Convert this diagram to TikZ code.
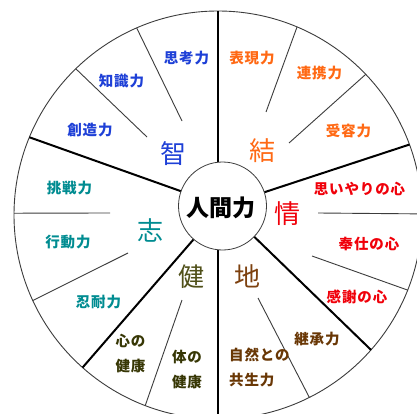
\documentclass[tikz,border=0pt]{standalone}
\usepackage{fontspec}
\usetikzlibrary{calc}
\newfontfamily\jp{Noto Sans CJK JP}
\newfontfamily\jps[LetterSpace=6]{Noto Sans CJK JP}
\definecolor{cblue}{RGB}{30,64,215}
\definecolor{corange}{RGB}{255,105,20}
\definecolor{cred}{RGB}{240,0,10}
\definecolor{cteal}{RGB}{0,140,145}
\definecolor{colive}{RGB}{80,80,25}
\definecolor{coliveD}{RGB}{55,55,5}
\definecolor{cbrown}{RGB}{125,65,15}
\definecolor{cbrownD}{RGB}{105,55,5}
\definecolor{cline}{RGB}{60,60,60}
\tikzset{
  big/.style={inner sep=0pt, font=\jp\fontsize{26}{28}\selectfont},
  lab/.style={inner sep=0pt, font=\jps\bfseries\fontsize{14.5}{25}\selectfont},
  thick spoke/.style={draw=black, line width=2pt},
  thin spoke/.style={draw=cline, line width=0.9pt},
}
\begin{document}
\begin{tikzpicture}[x=1pt,y=-1pt]
\useasboundingbox (0,0) rectangle (417,414);
\fill[white] (0,0) rectangle (417,414);
\clip (0,0) rectangle (417,414);
\coordinate (O) at (218,215);
\coordinate (c) at (222.5,206);
% outer circle
\draw[cline, line width=0.9pt] (O) circle[radius=204];
% outer end points
\coordinate (tTop) at ($(O)+(-90:204)$);
\coordinate (t2) at ($(O)+(-20.2:204)$);
\coordinate (t3) at ($(O)+(41.4:204)$);
\coordinate (tBot) at ($(O)+(90:204)$);
\coordinate (t5) at ($(O)+(131.6:204)$);
\coordinate (t6) at ($(O)+(-157.6:204)$);
\coordinate (a1) at ($(O)+(-113.5:204)$);
\coordinate (a2) at ($(O)+(-134.2:204)$);
\coordinate (b1) at ($(O)+(-67.2:204)$);
\coordinate (b2) at ($(O)+(-43.6:204)$);
\coordinate (e1) at ($(O)+(-0.3:206)$);
\coordinate (e2) at ($(O)+(21.6:204)$);
\coordinate (d1) at ($(O)+(63.4:204)$);
\coordinate (h1) at ($(O)+(110.9:204)$);
\coordinate (f1) at ($(O)+(180.5:204)$);
\coordinate (f2) at ($(O)+(155.2:204)$);
% inner end points of thin lines
\coordinate (a1i) at (182,121);
\coordinate (a2i) at (147,137);
\coordinate (b1i) at (266,112);
\coordinate (b2i) at (289,143);
\coordinate (e1i) at (318,213);
\coordinate (e2i) at (312,256);
\coordinate (d1i) at (258,298);
\coordinate (h1i) at (182,300);
\coordinate (f1i) at (110,213);
\coordinate (f2i) at (128,253);
% thin lines
\foreach \p in {a1,a2,b1,b2,e1,e2,d1,h1,f1,f2}
  \path[thin spoke] (\p i) -- (\p);
% thick spokes
\path[thick spoke] (tTop) -- (tTop |- c);
\path[thick spoke] (tBot) -- (tBot |- c);
\foreach \p in {t2,t3,t5,t6}
  \path[thick spoke] (c) -- (\p);
% hub
\node[circle, draw=cline, line width=0.8pt, fill=white, minimum size=88pt, inner sep=0pt] (hub) at (c) {};
\node[inner sep=0pt, font=\jp\bfseries\fontsize{23}{25}\selectfont] (hubtext) at (221,207.5) {人間力};
% big characters
\node[big, text=cblue] (chi) at (173,154) {智};
\node[big, text=corange] (musubi) at (262,150.5) {結};
\node[big, text=cred] (jou) at (287,213.5) {情};
\node[big, text=cbrown] (tsuchi) at (247,276.5) {地};
\node[big, text=colive] (ken) at (191,276.5) {健};
\node[big, text=cteal] (kokoro) at (150,230) {志};
% labels
\node[lab, text=cblue] (l1) at (186.5,58) {思考力};
\node[lab, text=cblue] (l2) at (121.5,81.5) {知識力};
\node[lab, text=cblue] (l3) at (90,130) {創造力};
\node[lab, text=cteal] (l4) at (69.5,188.5) {挑戦力};
\node[lab, text=cteal] (l5) at (68,242.5) {行動力};
\node[lab, text=cteal] (l6) at (98.5,302) {忍耐力};
\node[lab, text=coliveD, align=center] (l7) at (130.5,354) {心の\\健康};
\node[lab, text=coliveD, align=center] (l8) at (187,370) {体の\\健康};
\node[lab, text=cbrownD, align=left, anchor=west] (l9) at (229,367.5) {自然との\\共生力};
\node[lab, text=cbrownD] (l10) at (317,339) {継承力};
\node[lab, text=cred] (l11) at (357,296.5) {感謝の心};
\node[lab, text=cred] (l12) at (369,243.5) {奉仕の心};
\node[lab, text=cred] (l13) at (359.5,188.5) {思いやりの心};
\node[lab, text=corange] (l14) at (348.5,131) {受容力};
\node[lab, text=corange] (l15) at (319.5,73) {連携力};
\node[lab, text=corange] (l16) at (252,58) {表現力};
\end{tikzpicture}
\end{document}
